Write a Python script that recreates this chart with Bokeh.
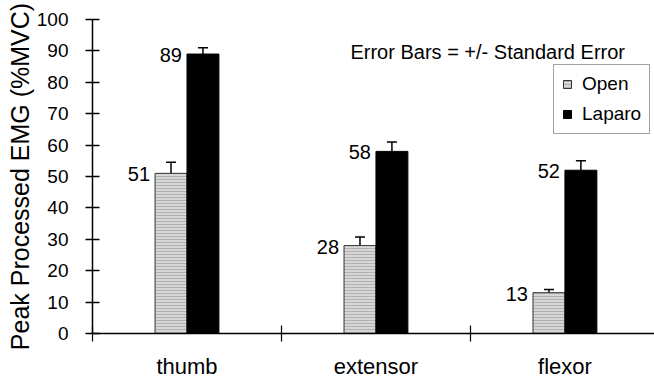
from bokeh.plotting import figure
from bokeh.models import (ColumnDataSource, FixedTicker, Range1d, Whisker, TeeHead,
                          Label, Legend, LegendItem)
from bokeh.core.properties import value
from bokeh.embed import file_html
from bokeh.resources import INLINE

# Peak processed EMG (%MVC) per muscle, open vs laparoscopic
muscles = ["thumb", "extensor", "flexor"]
open_mean = [51, 28, 13]
open_se = [3.5, 2.7, 1.0]
laparo_mean = [89, 58, 52]
laparo_se = [2.0, 3.0, 3.0]
y_ticks = [0, 10, 20, 30, 40, 50, 60, 70, 80, 90, 100]

FONT = "Liberation Sans"
BAR_W = 0.169
centers = [i + 0.5 for i in range(len(muscles))]

open_x = [c - BAR_W / 2 for c in centers]
lap_x = [c + BAR_W / 2 for c in centers]

src_open = ColumnDataSource(dict(
    x=open_x, top=open_mean,
    lo=[m - s for m, s in zip(open_mean, open_se)],
    hi=[m + s for m, s in zip(open_mean, open_se)],
    lx=[x - BAR_W / 2 for x in open_x],
    txt=[str(v) for v in open_mean],
))
src_lap = ColumnDataSource(dict(
    x=lap_x, top=laparo_mean,
    lo=[m - s for m, s in zip(laparo_mean, laparo_se)],
    hi=[m + s for m, s in zip(laparo_mean, laparo_se)],
    lx=[x - BAR_W / 2 for x in lap_x],
    txt=[str(v) for v in laparo_mean],
))

p = figure(width=654, height=381, output_backend="svg", toolbar_location=None,
           x_range=Range1d(0, 2.974), y_range=Range1d(0, 100),
           min_border_left=92, min_border_right=0, min_border_top=19,
           min_border_bottom=40)
p.outline_line_color = None
p.grid.visible = False
p.background_fill_color = "white"

r_open = p.vbar(x="x", top="top", width=BAR_W, source=src_open,
                fill_color="#d6d6d6", line_color="#333333", line_width=1,
                hatch_pattern="horizontal_line", hatch_color="#a0a0a0",
                hatch_scale=3, hatch_weight=0.7)
r_lap = p.vbar(x="x", top="top", width=BAR_W, source=src_lap,
               fill_color="black", line_color="black", line_width=1)

for src in (src_open, src_lap):
    w = Whisker(base="x", lower="lo", upper="hi", source=src,
                line_color="black", line_width=1.5,
                lower_head=TeeHead(size=10, line_color="black", line_width=1.5),
                upper_head=TeeHead(size=10, line_color="black", line_width=1.5))
    p.add_layout(w)
    p.text(x="lx", y="top", text="txt", source=src, x_offset=-5, y_offset=1,
           text_align="right", text_baseline="alphabetic",
           text_font=value(FONT), text_font_size="20px", text_color="black")

# y axis with crossing ticks
yax = p.yaxis[0]
yax.ticker = FixedTicker(ticks=y_ticks)
yax.major_tick_in = 7
yax.major_tick_out = 7
yax.minor_tick_in = 0
yax.minor_tick_out = 0
yax.major_label_standoff = 17
yax.major_label_text_font = FONT
yax.major_label_text_font_size = "19px"
yax.major_label_text_color = "black"
yax.axis_line_color = "black"
yax.axis_line_width = 1.5
yax.major_tick_line_width = 1.5
yax.axis_label = "Peak Processed EMG (%MVC)"
yax.axis_label_text_font = FONT
yax.axis_label_text_font_size = "25px"
yax.axis_label_text_font_style = "normal"
yax.axis_label_text_color = "black"
yax.axis_label_standoff = 0

# x axis: labels at category centres, crossing ticks at category boundaries
xax = p.xaxis[0]
xax.ticker = FixedTicker(ticks=centers, minor_ticks=[0, 1, 2, 3])
xax.major_label_overrides = {c: m for c, m in zip(centers, muscles)}
xax.major_tick_in = 0
xax.major_tick_out = 0
xax.minor_tick_in = 8
xax.minor_tick_out = 8
xax.minor_tick_line_color = "black"
xax.minor_tick_line_width = 1.2
xax.major_label_standoff = 12
xax.major_label_text_font = FONT
xax.major_label_text_font_size = "22px"
xax.major_label_text_color = "black"
xax.axis_line_color = "black"
xax.axis_line_width = 1.5

p.add_layout(Label(x=1.365, y=89.5, text="Error Bars = +/- Standard Error",
                   text_font=FONT, text_font_size="20px", text_color="black",
                   text_baseline="alphabetic"))

legend = Legend(items=[LegendItem(label="Open", renderers=[r_open]),
                       LegendItem(label="Laparo", renderers=[r_lap])],
                location=(461, 199), padding=8, spacing=8, margin=0,
                glyph_width=10, glyph_height=10, label_standoff=10,
                label_height=20, label_text_font=FONT,
                label_text_font_size="19px", label_text_color="black",
                border_line_color="#444444", border_line_width=1.5,
                background_fill_color="white", background_fill_alpha=1)
p.add_layout(legend)

open("out.html", "w").write(file_html(p, INLINE))
